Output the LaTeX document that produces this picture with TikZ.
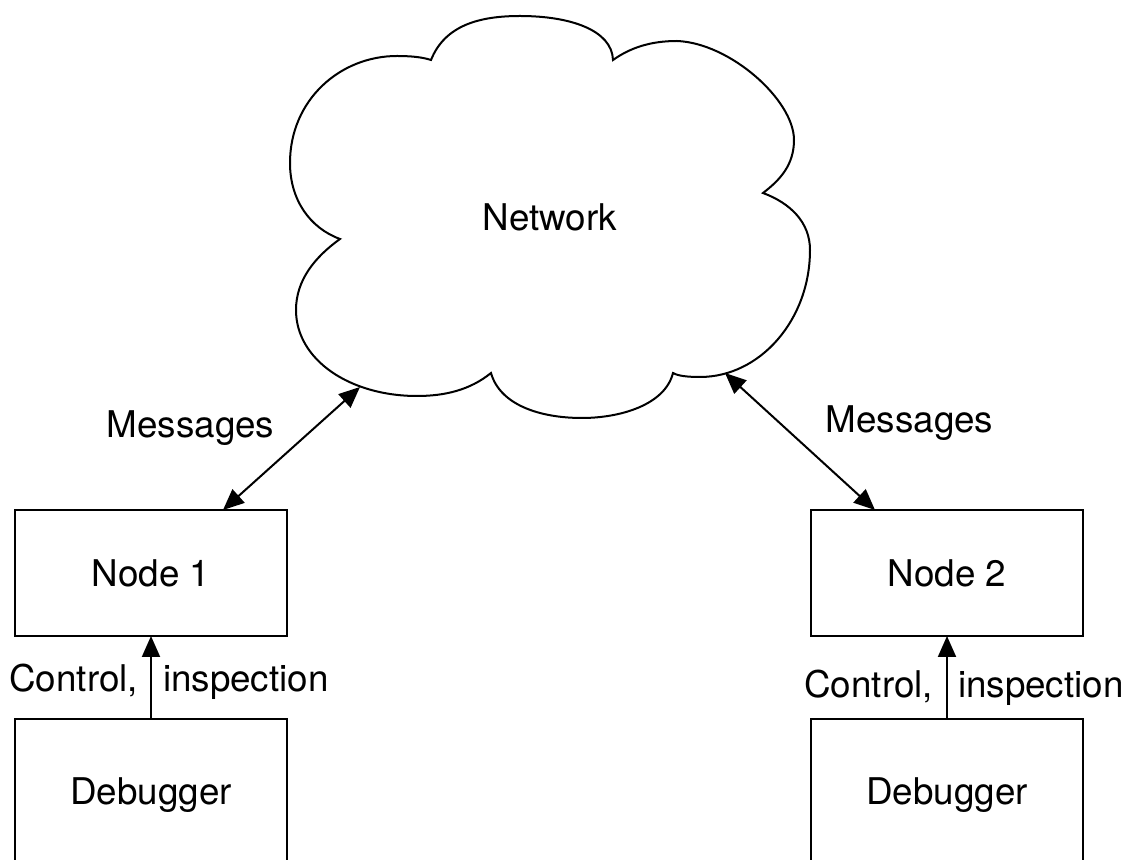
\documentclass[tikz,border=0pt]{standalone}
\usepackage{fontspec}
\setmainfont{TeX Gyre Heros}
\usetikzlibrary{arrows.meta}
\begin{document}
\begin{tikzpicture}[x=0.5pt,y=-0.5pt,
  txt/.style={font=\fontsize{18.4}{22}\selectfont, inner sep=0pt, outer sep=0pt},
  box/.style={txt, draw, line width=1pt, minimum width=136pt, minimum height=63pt, anchor=north west},
  dbgbox/.style={box, minimum height=76.5pt},
  ctrl/.style={line width=1pt, -{Triangle[length=10.5pt,width=9pt]}},
  msg/.style={line width=1pt, {Triangle[length=10.5pt,width=9pt]}-{Triangle[length=10.5pt,width=9pt]}},
  cloudline/.style={line width=1pt, line join=miter}
]
\useasboundingbox (0,0) rectangle (1132,860);
\fill[white] (0,0) rectangle (1132,860);
\clip (0,0) rectangle (1132,860);

% network cloud
\draw[cloudline]
  (431,60) .. controls (445,25) and (480,16) .. (520,16)
           .. controls (570,16) and (612,30) .. (613,60)
           .. controls (630,48) and (650,41) .. (677,41)
           .. controls (730,43) and (794,100) .. (794,140)
           .. controls (794,165) and (780,180) .. (763,193)
           .. controls (790,203) and (810,222) .. (810,250)
           .. controls (810,320) and (760,377) .. (700,377)
           .. controls (688,377) and (678,376) .. (673,373)
           .. controls (665,405) and (620,418) .. (582,418)
           .. controls (540,418) and (500,405) .. (491,373)
           .. controls (470,390) and (445,396) .. (417,396)
           .. controls (350,396) and (296,360) .. (296,310)
           .. controls (296,280) and (315,257) .. (340,239)
           .. controls (310,228) and (290,200) .. (290,163)
           .. controls (290,100) and (340,56) .. (397,56)
           .. controls (410,56) and (422,57) .. (431,60) -- cycle;
\node[txt] (net) at (550,217) {Network};
\coordinate (cloudL) at (360,387);
\coordinate (cloudR) at (725,373);

% nodes and debuggers
\node[box] (n1) at (15,510) {Node 1};
\node[box] (n2) at (811,510) {Node 2};
\node[dbgbox] (d1) at (15,719) {Debugger};
\node[dbgbox] (d2) at (811,719) {Debugger};

% message links
\draw[msg] ([xshift=36pt]n1.north) -- (cloudL);
\draw[msg] ([xshift=-36pt]n2.north) -- (cloudR);
\node[txt, anchor=base] (m1) at (190.5,438) {Messages};
\node[txt, anchor=base] (m2) at (909.5,433) {Messages};

% control links
\draw[ctrl] (d1.north) -- (n1.south);
\draw[ctrl] (d2.north) -- (n2.south);
\node[txt, anchor=base east] (c1) at (138,692) {Control,};
\node[txt, anchor=base west] (i1) at (163,692) {inspection};
\node[txt, anchor=base east] (c2) at (933,698) {Control,};
\node[txt, anchor=base west] (i2) at (958,698) {inspection};
\end{tikzpicture}
\end{document}
